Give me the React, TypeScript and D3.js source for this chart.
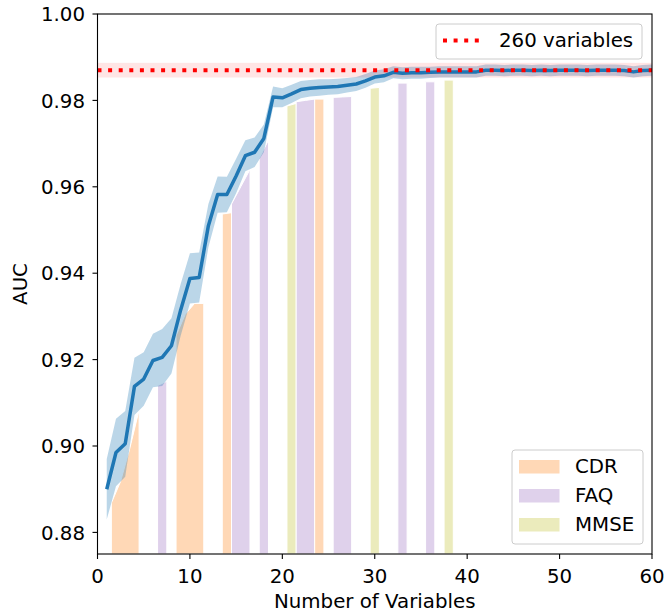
import React from "react";
import * as d3 from "d3";

// ---- data ----
const meanAUC = [
  0.8900, 0.8985, 0.9005, 0.9138, 0.9155, 0.9198, 0.9205, 0.9232, 0.9315, 0.9388,
  0.9390, 0.9510, 0.9582, 0.9582, 0.9625, 0.9672, 0.9680, 0.9712, 0.9808, 0.9806,
  0.9815, 0.9825, 0.9828, 0.9830, 0.9831, 0.9832, 0.9835, 0.9838, 0.9845, 0.9854,
  0.9857, 0.9865, 0.9863, 0.9864, 0.9864, 0.9865, 0.9866, 0.9866, 0.9866, 0.9866,
  0.9866, 0.9870, 0.9870, 0.9869, 0.9870, 0.9870, 0.9869, 0.9870, 0.9869, 0.9870,
  0.9870, 0.9870, 0.9869, 0.9870, 0.9870, 0.9870, 0.9869, 0.9866, 0.9869, 0.9870,
];
const stdAUC = [
  0.0070, 0.0078, 0.0076, 0.0066, 0.0062, 0.0062, 0.0066, 0.0064, 0.0060, 0.0058,
  0.0058, 0.0050, 0.0042, 0.0041, 0.0040, 0.0036, 0.0034, 0.0032, 0.0024, 0.0022,
  0.0021, 0.0020, 0.0019, 0.0019, 0.0018, 0.0018, 0.0017, 0.0016, 0.0016, 0.0015,
  0.0015, 0.0014, 0.0014, 0.0014, 0.0014, 0.0013, 0.0013, 0.0013, 0.0013, 0.0013,
  0.0013, 0.0013, 0.0013, 0.0013, 0.0013, 0.0013, 0.0013, 0.0013, 0.0013, 0.0013,
  0.0013, 0.0013, 0.0013, 0.0013, 0.0013, 0.0013, 0.0013, 0.0013, 0.0013, 0.0013,
];
const fullModelAUC = 0.9870;
const fullModelStd = 0.0017;
const fullModelLabel = "260 variables";

const categories = ["CDR", "FAQ", "MMSE"];
const barVars = [2, 3, 4, 7, 9, 10, 11, 14, 15, 16, 18, 21, 22, 23, 24, 26, 27, 30, 33, 36, 38];
const barCats = ["CDR", "CDR", "CDR", "FAQ", "CDR", "CDR", "CDR", "CDR", "FAQ", "FAQ", "FAQ",
  "MMSE", "FAQ", "FAQ", "CDR", "FAQ", "FAQ", "MMSE", "FAQ", "FAQ", "MMSE"];
const barTopLeft = [0.8868, 0.8918, 0.8995, 0.9140, 0.9255, 0.9305, 0.9330, 0.9537, 0.9560, 0.9600,
  0.9666, 0.9787, 0.9797, 0.9800, 0.9803, 0.9807, 0.9808, 0.9828, 0.9840, 0.9843, 0.9847];
const barTopRight = [0.8918, 0.8995, 0.9083, 0.9150, 0.9305, 0.9330, 0.9330, 0.9540, 0.9600, 0.9640,
  0.9708, 0.9793, 0.9800, 0.9803, 0.9803, 0.9808, 0.9809, 0.9830, 0.9840, 0.9843, 0.9847];

const xTicks = [0, 10, 20, 30, 40, 50, 60];
const yTicks = [0.88, 0.9, 0.92, 0.94, 0.96, 0.98, 1.0];

const catColor: Record<string, string> = { CDR: "#ff7f0e", FAQ: "#9467bd", MMSE: "#bcbd22" };

export default function App() {
  const W = 666, H = 616;
  const left = 97.5, right = 652, top = 14, bottom = 554;
  const x = d3.scaleLinear().domain([0, 60]).range([left, right]);
  const y = d3.scaleLinear().domain([0.875, 1.0]).range([bottom, top]);
  const font = "DejaVu Sans, sans-serif";
  const fs = 19.8;

  const pts = meanAUC.map((m, i) => ({ n: i + 1, m, s: stdAUC[i] }));
  const area = d3.area<any>().x(d => x(d.n)).y0(d => y(d.m - d.s)).y1(d => y(d.m + d.s));
  const line = d3.line<any>().x(d => x(d.n)).y(d => y(d.m));

  // group contiguous bars of same category
  const groups: { cat: string; idx: number[] }[] = [];
  barVars.forEach((v, i) => {
    const g = groups[groups.length - 1];
    if (g && g.cat === barCats[i] && barVars[g.idx[g.idx.length - 1]] === v - 1) g.idx.push(i);
    else groups.push({ cat: barCats[i], idx: [i] });
  });
  const groupPath = (g: { idx: number[] }) => {
    const p = d3.path();
    const first = g.idx[0];
    const last = g.idx[g.idx.length - 1];
    p.moveTo(x(barVars[first] - 0.5), y(0.875));
    g.idx.forEach(i => {
      p.lineTo(x(barVars[i] - 0.5), y(barTopLeft[i]));
      p.lineTo(x(barVars[i] + 0.5), y(barTopRight[i]));
    });
    p.lineTo(x(barVars[last] + 0.5), y(0.875));
    p.closePath();
    return p.toString();
  };

  return (
    <svg width={W} height={H} style={{ position: "absolute", left: 0, top: 0, background: "#fff" }} fontFamily={font}>
      <defs>
        <clipPath id="plotclip">
          <rect x={left} y={top} width={right - left} height={bottom - top} />
        </clipPath>
      </defs>
      <g clipPath="url(#plotclip)">
        {groups.map((g, i) => (
          <path key={i} d={groupPath(g)} fill={catColor[g.cat]} fillOpacity={0.3} stroke="#fff" strokeWidth={1} />
        ))}
        <path d={area(pts) || ""} fill="#1f77b4" fillOpacity={0.3} />
        <rect x={x(0)} y={y(fullModelAUC + fullModelStd)} width={x(60) - x(0)}
          height={y(fullModelAUC - fullModelStd) - y(fullModelAUC + fullModelStd)} fill="#ff0000" fillOpacity={0.1} />
        <path d={line(pts) || ""} fill="none" stroke="#1f77b4" strokeWidth={3.5} strokeLinejoin="round" />
        <line x1={x(0)} x2={x(60)} y1={y(fullModelAUC)} y2={y(fullModelAUC)} stroke="#ff0000" strokeWidth={4} strokeDasharray="4 6.6" />
      </g>

      {/* spines */}
      <rect x={left} y={top} width={right - left} height={bottom - top} fill="none" stroke="#000" strokeWidth={1.1} />

      {/* y axis */}
      {yTicks.map(t => (
        <g key={t}>
          <line x1={left - 5} x2={left} y1={y(t)} y2={y(t)} stroke="#000" strokeWidth={1.1} />
          <text x={85} y={y(t)} dy="0.36em" textAnchor="end" fontSize={fs}>{t.toFixed(2)}</text>
        </g>
      ))}
      {/* x axis */}
      {xTicks.map(t => (
        <g key={t}>
          <line x1={x(t)} x2={x(t)} y1={bottom} y2={bottom + 5} stroke="#000" strokeWidth={1.1} />
          <text x={x(t)} y={583} textAnchor="middle" fontSize={fs}>{t}</text>
        </g>
      ))}
      <text x={(left + right) / 2} y={608} textAnchor="middle" fontSize={fs}>Number of Variables</text>
      <text transform={`translate(27,${(top + bottom) / 2}) rotate(-90)`} textAnchor="middle" fontSize={fs}>AUC</text>

      {/* top legend */}
      <rect x={436} y={24} width={206} height={35} rx={3} fill="#fff" fillOpacity={0.8} stroke="#cccccc" strokeWidth={1} />
      <line x1={443} x2={481} y1={40.5} y2={40.5} stroke="#ff0000" strokeWidth={4} strokeDasharray="4 6.6" />
      <text x={499} y={47} fontSize={fs}>{fullModelLabel}</text>

      {/* bottom legend */}
      <rect x={512} y={450} width={131} height={94} rx={3} fill="#fff" fillOpacity={0.8} stroke="#cccccc" strokeWidth={1} />
      {categories.map((c, i) => (
        <g key={c}>
          <rect x={518.5} y={459.5 + i * 29} width={41.5} height={14.5} fill={catColor[c]} fillOpacity={0.3} stroke="#fff" strokeWidth={1} />
          <text x={575} y={473.3 + i * 29} fontSize={fs}>{c}</text>
        </g>
      ))}
    </svg>
  );
}
